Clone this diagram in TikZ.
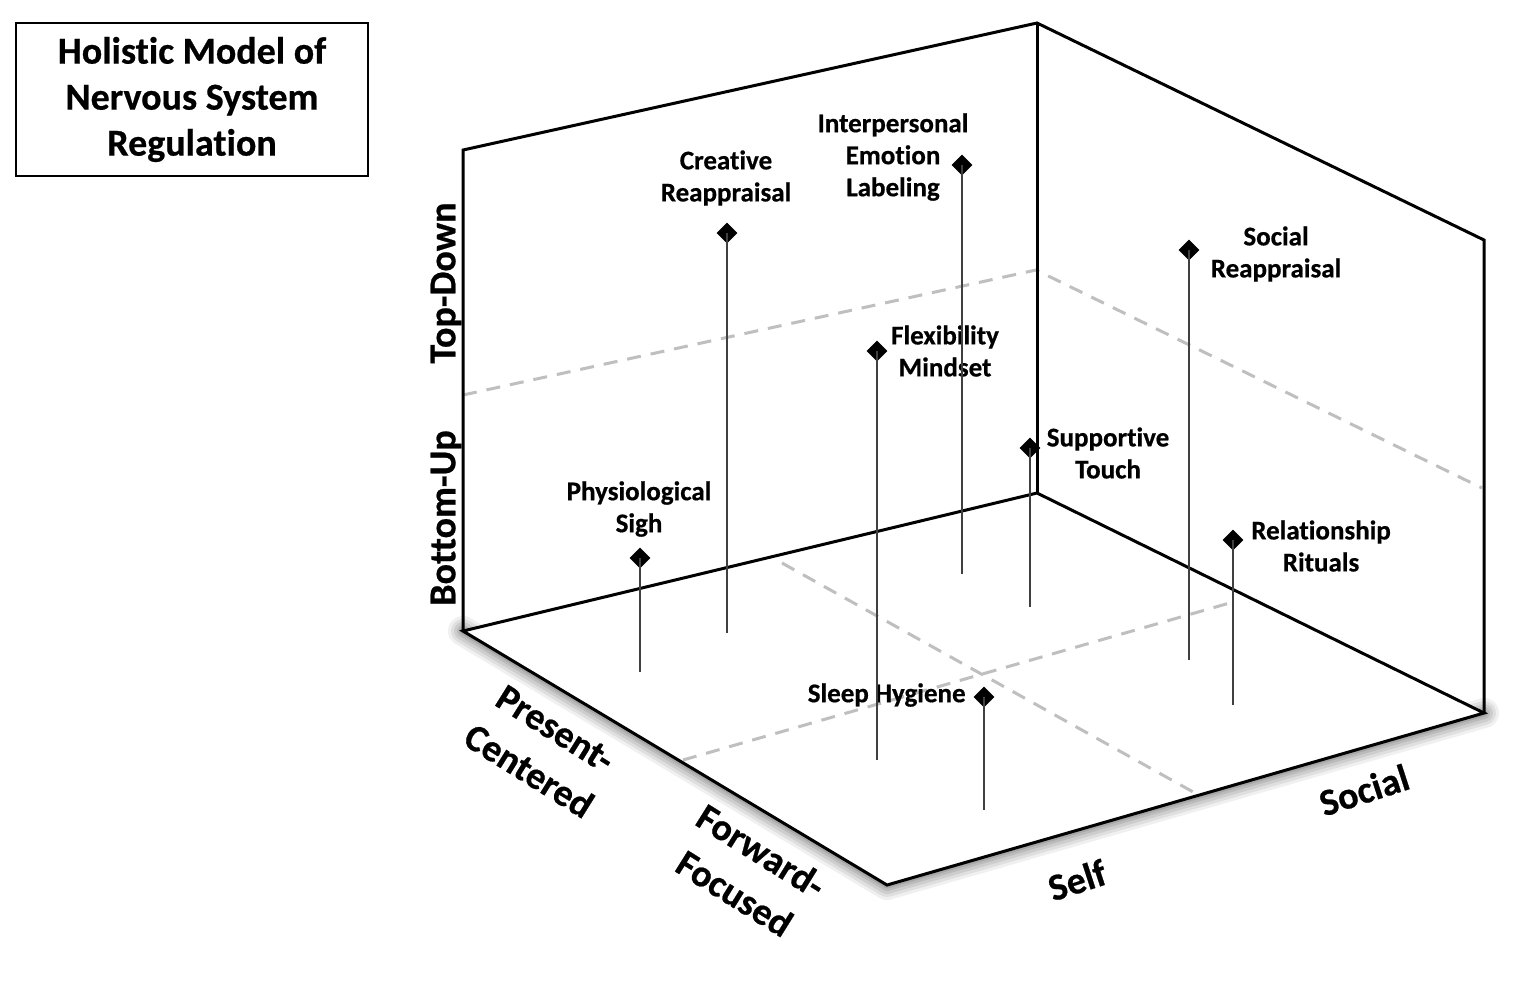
\documentclass[tikz,border=0pt]{standalone}
\usepackage{fontspec}
\setmainfont{Carlito}[Ligatures={NoCommon}, BoldFeatures={FakeBold=0.6}]
\usetikzlibrary{shapes.geometric}
\definecolor{gridgray}{HTML}{BFBFBF}
\newcommand{\tiX}{t\kern0pt i}
\begin{document}
\begin{tikzpicture}[x=0.5pt,y=-0.5pt,
  edge/.style={line width=1.5pt, line join=miter},
  gridline/.style={line width=1.5pt, gridgray, dash pattern=on 7pt off 5pt},
  stem/.style={line width=0.6pt, black!75},
  shade stroke/.style={black, line join=round, line cap=round, yshift=-3pt},
  diam/.style={diamond, fill=black, inner sep=0pt, minimum width=10.5pt, minimum height=10.5pt},
  lbl/.style={font=\bfseries\fontsize{13.5}{16}\selectfont, align=center, inner sep=0pt},
  axislbl/.style={font=\bfseries\fontsize{19}{25}\selectfont, align=center, inner sep=0pt},
  titlebox/.style={draw, line width=1pt, minimum width=176pt, minimum height=76.5pt, align=center, font=\bfseries\fontsize{19}{23}\selectfont}
]
\useasboundingbox (0,0) rectangle (1540,998);
\fill[white] (0,0) rectangle (1540,998);

% corners
\coordinate (BL) at (463,631);
\coordinate (TL) at (463,150);
\coordinate (TB) at (1037,23);
\coordinate (BB) at (1037,493);
\coordinate (TR) at (1484,240);
\coordinate (BR) at (1484,713);
\coordinate (FC) at (887,885);

% soft shadow under the front edges of the floor
\foreach \w/\o in {15/0.06, 12/0.07, 9/0.08, 6/0.09, 3.5/0.1, 1.5/0.11}{
  \draw[shade stroke, line width=\w pt, opacity=\o] (BL) -- (FC) -- (BR);
}
% floor
\fill[white] (BL) -- (BB) -- (BR) -- (FC) -- cycle;

% grid lines
\draw[gridline] (463,395) -- (1036,270) -- (1482,488);
\draw[gridline] (782,563) -- (1195,793);
\draw[gridline] (683,760) -- (1233,602);

% cube edges
\draw[edge] (BL) -- (TL) -- (TB) -- (TR) -- (BR);
\draw[edge] (TB) -- (BB);
\draw[edge] (BL) -- (BB) -- (BR) -- (FC) -- cycle;

% title
\node[titlebox] (title) at (192,99.5) {Holis\tiX c Model of\\Nervous System\\Regula\tiX on};

% axis labels
\node[axislbl, rotate=90] (topdown) at (446,283) {Top-Down};
\node[axislbl, rotate=90] (bottomup) at (446,518) {Bottom-Up};
\node[axislbl, rotate=-32] (present) at (542,750) {Present-\\Centered};
\node[axislbl, rotate=-32] (forward) at (748,872) {Forward-\\Focused};
\node[axislbl, rotate=18] (self) at (1077,880) {Self};
\node[axislbl, rotate=18] (social) at (1364,790) {Social};

% stem feet
\coordinate (s1) at (640,672);
\coordinate (s2) at (727,633);
\coordinate (s3) at (962,574);
\coordinate (s4) at (877,760);
\coordinate (s5) at (1030,607);
\coordinate (s6) at (1189,660);
\coordinate (s7) at (1233,705);
\coordinate (s8) at (984,810);

% markers
\node[diam] (d1) at (640,558) {};
\node[diam] (d2) at (727,233) {};
\node[diam] (d3) at (962,165) {};
\node[diam] (d4) at (877,351) {};
\node[diam] (d5) at (1030,448) {};
\node[diam] (d6) at (1189,250) {};
\node[diam] (d7) at (1233,540) {};
\node[diam] (d8) at (984,697) {};

% labels
\node[lbl] (l1) at (639,509) {Physiological\\Sigh};
\node[lbl] (l2) at (726,178) {Crea\tiX ve\\Reappraisal};
\node[lbl] (l3) at (893,157) {Interpersonal\\Emo\tiX on\\Labeling};
\node[lbl] (l4) at (945,351) {Flexibility\\Mindset};
\node[lbl] (l5) at (1108,453) {Suppor\tiX ve\\Touch};
\node[lbl] (l6) at (1276,254) {Social\\Reappraisal};
\node[lbl] (l7) at (1321,546) {Rela\tiX onship\\Rituals};
\node[lbl, anchor=east] (l8) at (966,695) {Sleep Hygiene};

\foreach \i in {1,...,8} {\draw[stem] (d\i.center) -- (s\i);}
\end{tikzpicture}
\end{document}
